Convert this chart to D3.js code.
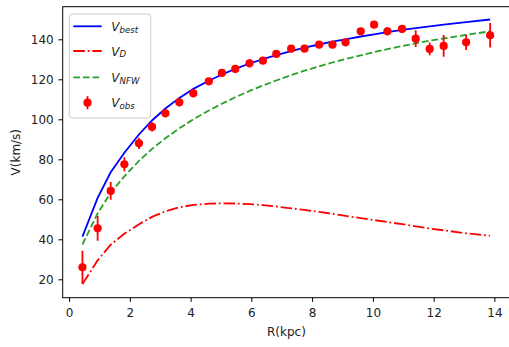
<!DOCTYPE html>
<html>
<head>
<meta charset="utf-8">
<script src="https://cdn.jsdelivr.net/npm/d3@7"></script>
<style>
  html, body { margin: 0; padding: 0; background: #fff; }
  svg { display: block; font-family: "DejaVu Sans", sans-serif; }
</style>
</head>
<body>
<svg id="chart" width="509" height="347"></svg>
<script>
// Galactocentric radius (kpc) of each measured point
const radius = [0.44, 0.94, 1.37, 1.82, 2.30, 2.73, 3.17, 3.63, 4.09, 4.60, 5.03, 5.47, 5.94, 6.38, 6.82,
                7.31, 7.75, 8.23, 8.67, 9.10, 9.60, 10.04, 10.48, 10.96, 11.41, 11.87, 12.33, 13.07, 13.86];
// Observed rotation speed (km/s) and its uncertainty
const vObs = [26.0, 45.5, 64.2, 77.5, 88.0, 96.2, 103.0, 108.5, 113.0, 119.0, 123.2, 125.2, 128.0, 129.3, 132.7,
              135.3, 135.3, 137.3, 137.3, 138.5, 144.0, 147.3, 144.0, 145.2, 140.3, 135.2, 136.7, 138.5, 142.0];
const vErr = [8.3, 6.2, 4.4, 3.5, 2.8, 2.3, 2.0, 2.0, 2.0, 1.5, 1.5, 1.5, 2.0, 1.5, 1.5,
              1.5, 1.5, 1.5, 1.5, 1.5, 1.5, 1.5, 2.0, 2.0, 4.2, 3.2, 5.4, 3.8, 6.1];
// Model curves evaluated at the same radii
const vBest = [41.3, 60.7, 73.5, 83.3, 92.4, 99.4, 105.4, 110.7, 115.2, 119.3, 122.4, 125.2, 127.9, 130.1, 132.1,
               134.1, 135.8, 137.4, 138.8, 140.0, 141.4, 142.5, 143.6, 144.7, 145.6, 146.5, 147.3, 148.6, 149.9];
const vDisk = [17.6, 29.5, 37.3, 42.8, 47.5, 51.2, 54.0, 56.0, 57.2, 57.8, 58.0, 57.9, 57.6, 57.1, 56.4,
               55.5, 54.7, 53.7, 52.7, 51.7, 50.6, 49.6, 48.6, 47.6, 46.5, 45.4, 44.5, 43.0, 41.8];
const vNfw = [37.4, 53.0, 63.3, 71.5, 79.2, 85.2, 90.5, 95.5, 100.0, 104.4, 107.8, 111.0, 114.2, 116.9, 119.4,
              122.1, 124.3, 126.5, 128.4, 130.1, 132.0, 133.6, 135.1, 136.6, 138.0, 139.3, 140.4, 142.2, 144.0];

const xTicks = [0, 2, 4, 6, 8, 10, 12, 14];
const yTicks = [20, 40, 60, 80, 100, 120, 140];

const DASH_DOT = "11.5,2.9,1.8,2.9";
const DASHED = "6.7,2.9";

const legendItems = [
  { sub: "best", kind: "line", color: "#0000ff", dash: null },
  { sub: "D", kind: "line", color: "#ff0000", dash: DASH_DOT },
  { sub: "NFW", kind: "line", color: "#2ca02c", dash: DASHED },
  { sub: "obs", kind: "point", color: "#ff0000", dash: null }
];

const svg = d3.select("#chart");
const plot = { left: 62.7, right: 510.2, top: 6.7, bottom: 297.7 };

const x = d3.scaleLinear().domain([-0.21, 14.52]).range([plot.left, plot.right]);
const y = d3.scaleLinear().domain([10.8, 156.3]).range([plot.bottom, plot.top]);

const textColor = "#222";
const FONT = 12;
const LW = 1.8;

// Axes
const xAxis = svg.append("g")
  .attr("transform", `translate(0,${plot.bottom})`)
  .call(d3.axisBottom(x).tickValues(xTicks).tickSize(4.2).tickPadding(4.2).tickFormat(d3.format("d")));
const yAxis = svg.append("g")
  .attr("transform", `translate(${plot.left},0)`)
  .call(d3.axisLeft(y).tickValues(yTicks).tickSize(4.2).tickPadding(4.2).tickFormat(d3.format("d")));
[xAxis, yAxis].forEach(g => {
  g.select(".domain").remove();
  g.selectAll(".tick line").attr("stroke", "#000").attr("stroke-width", 1);
  g.selectAll(".tick text").attr("fill", textColor).attr("font-size", FONT)
    .attr("font-family", "DejaVu Sans, sans-serif");
});
xAxis.selectAll(".tick text").attr("y", 19.3).attr("dy", null);
yAxis.selectAll(".tick text").attr("x", -9).attr("dy", "0.36em");

// Clip region for the data
svg.append("clipPath").attr("id", "plotClip")
  .append("rect").attr("x", plot.left).attr("y", plot.top)
  .attr("width", plot.right - plot.left).attr("height", plot.bottom - plot.top);

const curve = arr => d3.line().x((d, i) => x(radius[i])).y(d => y(d))(arr);

const layer = svg.append("g").attr("clip-path", "url(#plotClip)");
layer.append("path").attr("d", curve(vBest)).attr("fill", "none")
  .attr("stroke", "#0000ff").attr("stroke-width", LW);
layer.append("path").attr("d", curve(vDisk)).attr("fill", "none")
  .attr("stroke", "#ff0000").attr("stroke-width", LW).attr("stroke-dasharray", DASH_DOT);
layer.append("path").attr("d", curve(vNfw)).attr("fill", "none")
  .attr("stroke", "#2ca02c").attr("stroke-width", LW).attr("stroke-dasharray", DASHED);

// Observed points with error bars
const pts = layer.append("g");
pts.selectAll("line").data(vObs).join("line")
  .attr("x1", (d, i) => x(radius[i])).attr("x2", (d, i) => x(radius[i]))
  .attr("y1", (d, i) => y(d - vErr[i])).attr("y2", (d, i) => y(d + vErr[i]))
  .attr("stroke", "#ff0000").attr("stroke-width", LW);
pts.selectAll("circle").data(vObs).join("circle")
  .attr("cx", (d, i) => x(radius[i])).attr("cy", d => y(d))
  .attr("r", 4.1).attr("fill", "#ff0000");

// Frame
svg.append("rect").attr("x", plot.left).attr("y", plot.top)
  .attr("width", plot.right - plot.left).attr("height", plot.bottom - plot.top)
  .attr("fill", "none").attr("stroke", "#000").attr("stroke-width", 1);

// Axis labels
svg.append("text").attr("x", (plot.left + plot.right) / 2).attr("y", 335.5)
  .attr("text-anchor", "middle").attr("font-size", FONT).attr("fill", textColor).text("R(kpc)");
svg.append("text").attr("transform", `translate(20,${(plot.top + plot.bottom) / 2}) rotate(-90)`)
  .attr("text-anchor", "middle").attr("font-size", FONT).attr("fill", textColor).text("V(km/s)");

// Legend
const legend = svg.append("g");
legend.append("rect").attr("x", 69.3).attr("y", 14).attr("width", 81.4).attr("height", 104)
  .attr("rx", 3).attr("fill", "#fff").attr("fill-opacity", 0.8)
  .attr("stroke", "#cccccc").attr("stroke-width", 1);
const rowY = [26.3, 51, 77.3, 102.7];
legendItems.forEach((item, i) => {
  const yy = rowY[i];
  if (item.kind === "line") {
    legend.append("line").attr("x1", 73.3).attr("x2", 101.7).attr("y1", yy).attr("y2", yy)
      .attr("stroke", item.color).attr("stroke-width", LW)
      .attr("stroke-dasharray", item.dash);
  } else {
    legend.append("line").attr("x1", 87.5).attr("x2", 87.5).attr("y1", yy - 6.5).attr("y2", yy + 6.5)
      .attr("stroke", item.color).attr("stroke-width", LW);
    legend.append("circle").attr("cx", 87.5).attr("cy", yy).attr("r", 4.1).attr("fill", item.color);
  }
  const t = legend.append("text").attr("x", 111.3).attr("y", yy + 4.6)
    .attr("font-size", FONT).attr("font-style", "italic").attr("fill", textColor);
  t.append("tspan").text("V");
  t.append("tspan").attr("font-size", 8.6).attr("dy", 1.8).text(item.sub);
});
</script>
</body>
</html>
